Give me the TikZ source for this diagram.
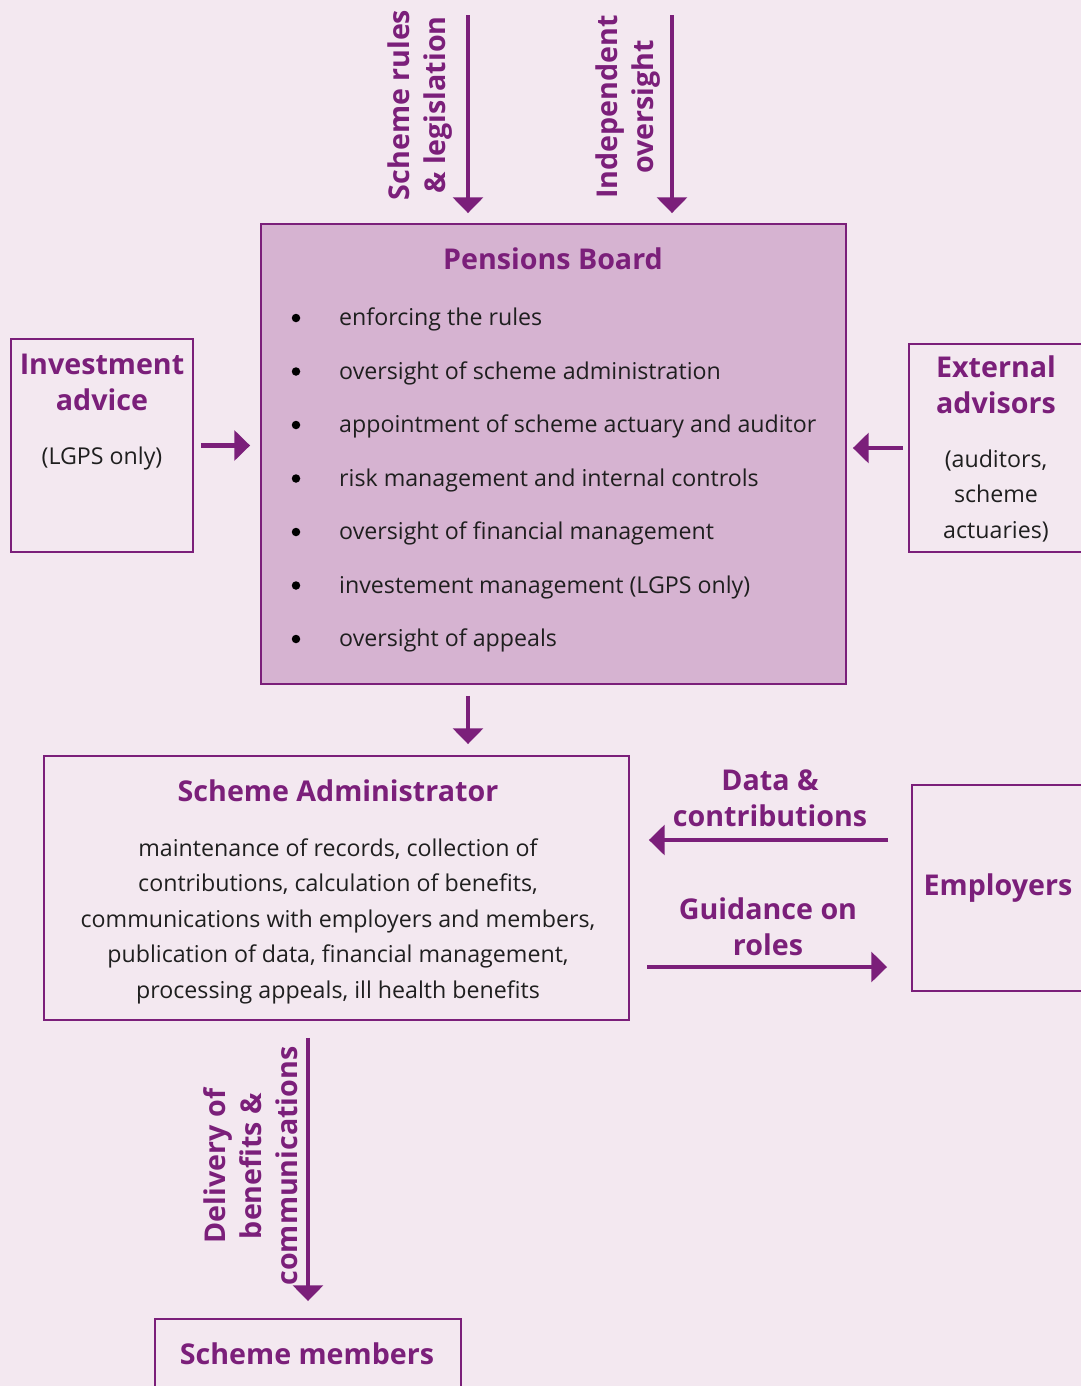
\documentclass[tikz,border=0pt]{standalone}
\usepackage{fontspec}
\setmainfont{Open Sans}
\usepackage{xcolor}
\usetikzlibrary{arrows.meta}
\definecolor{plum}{HTML}{7B1F7A}
\definecolor{boardfill}{HTML}{D6B3D1}
\definecolor{paper}{HTML}{F3E8F0}

\begin{document}
\begin{tikzpicture}[x=0.02cm,y=-0.02cm]
\tikzset{box/.style={draw=plum,line width=1.1pt,inner sep=0pt}}
\tikzset{head/.style={text=plum,font=\fontsize{16.3}{20.4}\selectfont\bfseries,align=center}}
\tikzset{body/.style={text=black!88,font=\fontsize{13.2}{20.2}\selectfont,align=center}}
\tikzset{arr/.style={draw=plum,line width=2.6pt,-{Triangle[width=17pt,length=9pt]}}}

\path[use as bounding box,fill=paper] (0,0) rectangle (1081,1386);

% boxes
\node[box,fill=boardfill,minimum width=11.7cm,minimum height=9.2cm] (board) at (553.5,454) {};
\node[box,minimum width=3.64cm,minimum height=4.26cm] (invest) at (102,445.5) {};
\node[box,minimum width=3.82cm,minimum height=4.16cm] (ext) at (1004.5,448) {};
\node[box,minimum width=11.7cm,minimum height=5.28cm] (admin) at (336.5,888) {};
\node[box,minimum width=3.76cm,minimum height=4.12cm] (employ) at (1006,888) {};
\node[box,minimum width=6.12cm,minimum height=2.02cm] (members) at (308,1369.5) {};

% texts
\node[head] (boardtitle) at (553,259) {Pensions Board};
\foreach \txt [count=\i] in {enforcing the rules,oversight of scheme administration,appointment of scheme actuary and auditor,risk management and internal controls,oversight of financial management,investement management (LGPS only),oversight of appeals}
{
  \node[circle,fill=black,inner sep=0pt,minimum size=0.17cm] (dot\i) at (296,{264.5+53.5*\i}) {};
  \node[body,anchor=base west] (item\i) at (333,{272+53.5*\i}) {\txt};
}
\node[head] (investtitle) at (102,382) {Investment\\advice};
\node[body] (investnote) at (102,458) {(LGPS only)};
\node[head] (exttitle) at (996,385) {External\\advisors};
\node[body] (extnote) at (996,496) {(auditors,\\scheme\\actuaries)};
\node[head] (admintitle) at (338,791) {Scheme Administrator};
\node[body] (adminnote) at (338,921) {maintenance of records, collection of\\contributions, calculation of benefits,\\communications with employers and members,\\publication of data, financial management,\\processing appeals, ill health benefits};
\node[head] (employtitle) at (998,888) {Employers};
\node[head] (memberstitle) at (307,1354) {Scheme members};

\node[head,rotate=90] (ruleslabel) at (420,105) {Scheme rules\\\& legislation};
\node[head,rotate=90] (oversightlabel) at (628,107) {Independent\\oversight};
\node[head] (datalabel) at (770,798) {Data \&\\contributions};
\node[head] (guidelabel) at (768,927) {Guidance on\\roles};
\node[head,rotate=90] (deliverylabel) at (251,1166) {Delivery of\\benefits \&\\communications};

% arrows
\coordinate (rulestop) at (468,15);
\coordinate (oversighttop) at (672,15);
\coordinate (datastart) at (888,840);
\coordinate (guidestart) at (647,967);
\draw[arr,shorten >=0.2cm] (rulestop) -- (board.north -| rulestop);
\draw[arr,shorten >=0.2cm] (oversighttop) -- (board.north -| oversighttop);
\draw[arr,shorten <=0.14cm,shorten >=0.2cm] (invest.east) -- (invest.east -| board.west);
\draw[arr,shorten <=0.1cm,shorten >=0.12cm] (ext.west) -- (ext.west -| board.east);
\draw[arr,shorten <=0.22cm,shorten >=0.22cm] (board.south -| rulestop) -- (admin.north -| rulestop);
\draw[arr,shorten >=0.38cm] (datastart) -- (datastart -| admin.east);
\draw[arr,shorten >=0.48cm] (guidestart) -- (guidestart -| employ.west);
\draw[arr,shorten <=0.34cm,shorten >=0.34cm] (admin.south -| members.north) -- (members.north);

\end{tikzpicture}
\end{document}
